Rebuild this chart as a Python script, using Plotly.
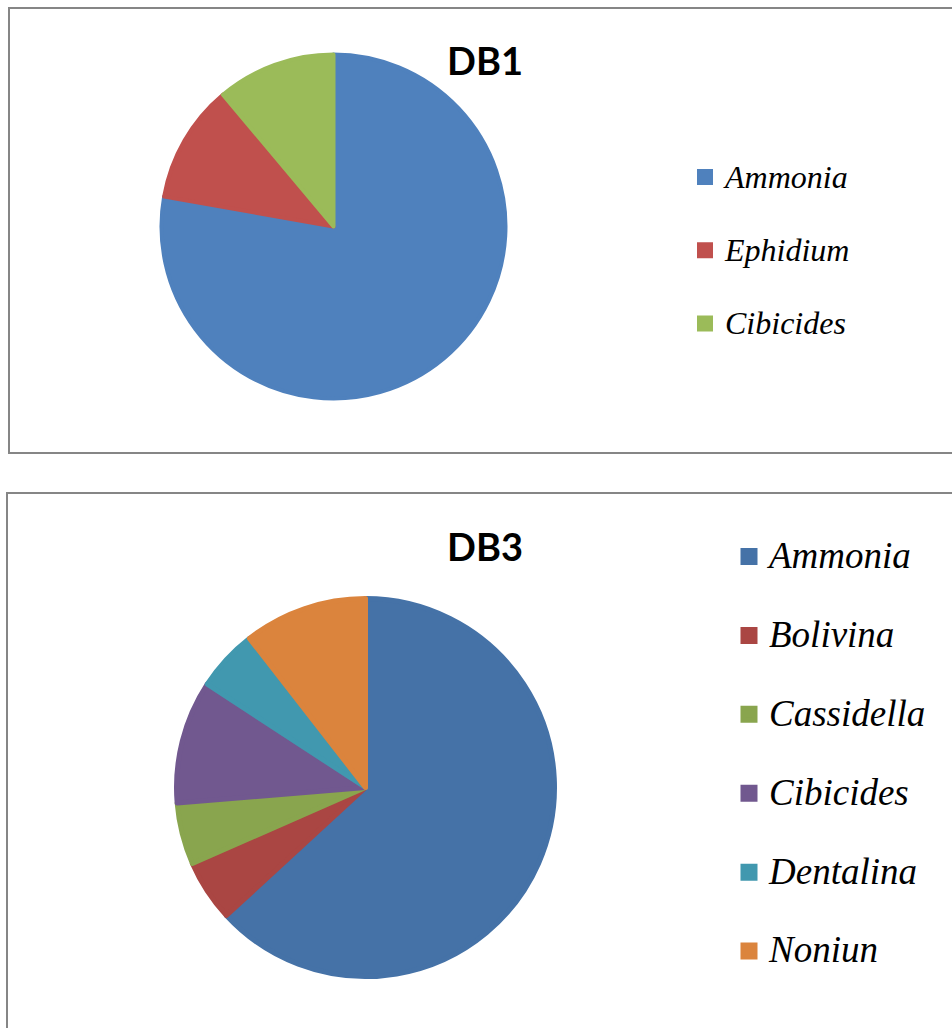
import plotly.graph_objects as go

W, H = 952, 1028

# ---- data ----
db1_labels = ["Ammonia", "Ephidium", "Cibicides"]
db1_values = [14, 2, 2]
db1_colors = ["#4F81BD", "#C0504D", "#9BBB59"]

db3_labels = ["Ammonia", "Bolivina", "Cassidella", "Cibicides", "Dentalina", "Noniun"]
db3_values = [12, 1, 1, 2, 1, 2]
db3_colors = ["#4572A7", "#AA4643", "#89A54E", "#71588F", "#4198AF", "#DB843D"]

titles = ["DB1", "DB3"]

SERIF = "Liberation Serif"
SANS = "Lato"


def px_x(v):
    return v / W


def px_y(v):
    return 1 - v / H


def legend_text(lbl, size):
    return f"<span style=\"font-size:{size}px\"><i>{lbl}</i></span><br>\u00a0"


fig = go.Figure()

c1x, c1y, r1 = 333.5, 226.5, 172
fig.add_trace(go.Pie(
    labels=[legend_text(l, 32) for l in db1_labels],
    values=db1_values,
    sort=False, direction="clockwise", rotation=0,
    textinfo="none", hoverinfo="label+value",
    marker=dict(colors=db1_colors, line=dict(color=db1_colors, width=4)),
    domain=dict(x=[px_x(c1x - r1), px_x(c1x + r1)], y=[px_y(c1y + r1), px_y(c1y - r1)]),
    legend="legend",
))

c3x, c3y, r3 = 365.5, 787.5, 189
fig.add_trace(go.Pie(
    labels=[legend_text(l, 37) for l in db3_labels],
    values=db3_values,
    sort=False, direction="clockwise", rotation=0,
    textinfo="none", hoverinfo="label+value",
    marker=dict(colors=db3_colors, line=dict(color=db3_colors, width=5)),
    domain=dict(x=[px_x(c3x - r3), px_x(c3x + r3)], y=[px_y(c3y + r3), px_y(c3y - r3)]),
    legend="legend2",
))

border = dict(color="#868686", width=2)
shapes = [
    dict(type="rect", xref="paper", yref="paper", x0=px_x(9), x1=px_x(975),
         y0=px_y(453), y1=px_y(8), line=border, fillcolor="rgba(0,0,0,0)", layer="below"),
    dict(type="rect", xref="paper", yref="paper", x0=px_x(7), x1=px_x(975),
         y0=px_y(1050), y1=px_y(493), line=border, fillcolor="rgba(0,0,0,0)", layer="below"),
]

annotations = [
    dict(text=f"<b>{titles[0]}</b>", x=px_x(485), y=px_y(60), xref="paper", yref="paper",
         showarrow=False, xanchor="center", yanchor="middle",
         font=dict(family=SANS, size=38, color="black")),
    dict(text=f"<b>{titles[1]}</b>", x=px_x(485), y=px_y(546), xref="paper", yref="paper",
         showarrow=False, xanchor="center", yanchor="middle",
         font=dict(family=SANS, size=38, color="black")),
]

fig.update_layout(
    width=W, height=H,
    margin=dict(l=0, r=0, t=0, b=0),
    paper_bgcolor="white", plot_bgcolor="white",
    shapes=shapes, annotations=annotations,
    legend=dict(x=px_x(685), y=px_y(153), xanchor="left", yanchor="top",
                font=dict(family=SERIF, size=27, color="black"),
                valign="top", bgcolor="rgba(0,0,0,0)", traceorder="normal"),
    legend2=dict(x=px_x(729), y=px_y(531), xanchor="left", yanchor="top",
                 font=dict(family=SERIF, size=29.2, color="black"),
                 valign="top", bgcolor="rgba(0,0,0,0)", traceorder="normal"),
)

fig.write_html("out.html", config={"displayModeBar": False},
               post_script="document.body.style.margin='0';")
